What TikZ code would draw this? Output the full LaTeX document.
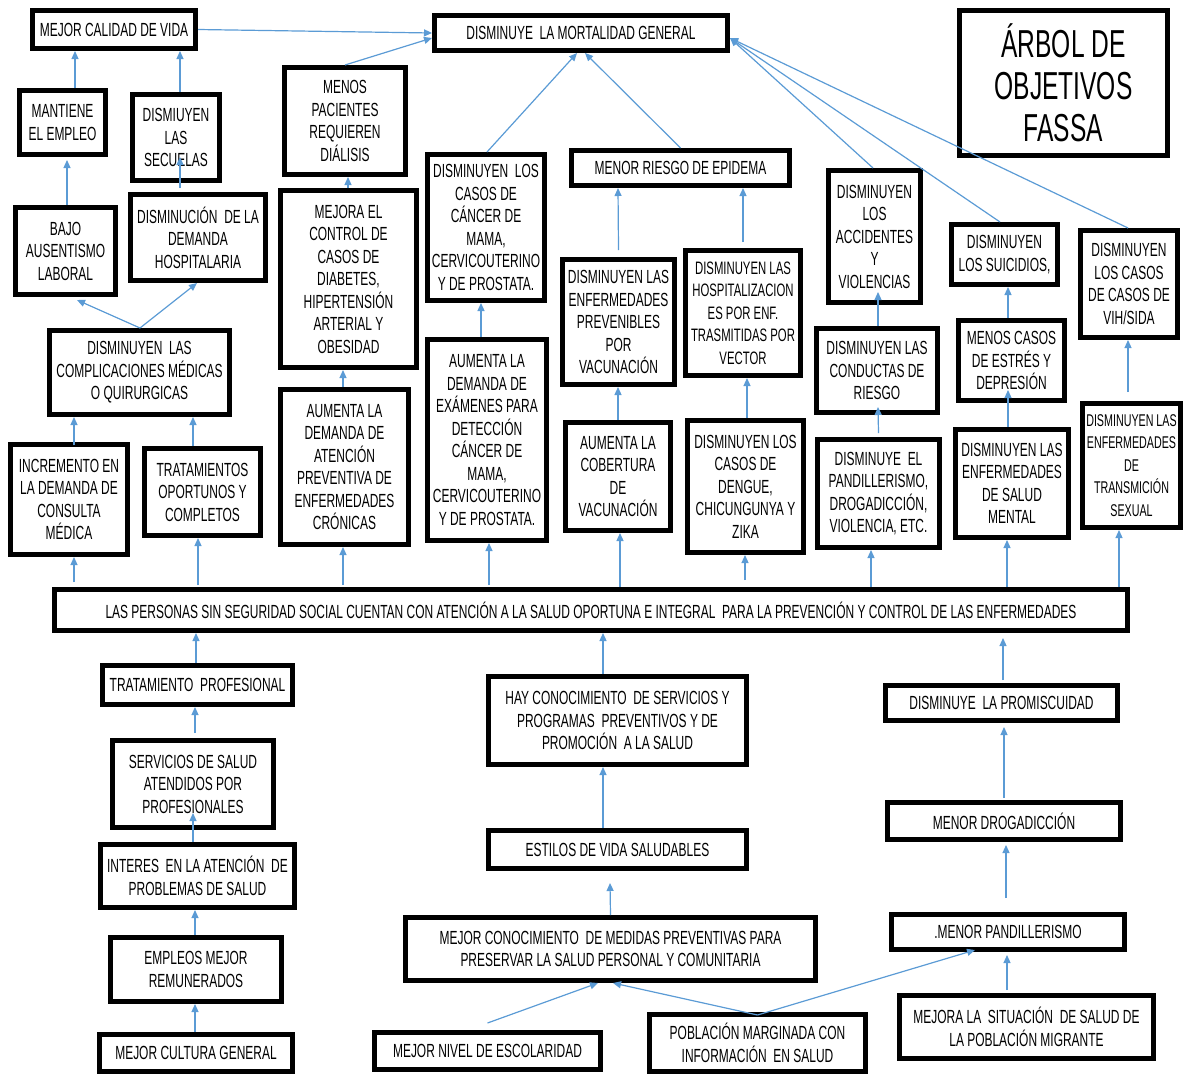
\documentclass[tikz,border=0pt]{standalone}
\usepackage{fontspec}
\setmainfont{Liberation Sans}[FakeStretch=0.63]
\usetikzlibrary{arrows.meta}
\definecolor{arrowblue}{RGB}{91,155,213}
\tikzset{
  box/.style={draw=black, line width=5pt, outer sep=2.5pt, inner sep=0pt, fill=white,
    align=center, font=\fontsize{19}{22.5}\selectfont},
  arr/.style={draw=arrowblue, line width=1.2pt, -{Triangle[length=8pt,width=7pt]}}
}
\newcommand\objbox[6]{\node[box, minimum width={#4-#2-5}, minimum height={#5-#3-5}] (#1) at ({(#2+#4)/2},{(#3+#5)/2}) {#6};}
\begin{document}
\begin{tikzpicture}[x=1pt,y=-1pt]
\useasboundingbox (0,0) rectangle (1185,1076);
% top
\objbox{cal}{30}{8}{198}{51}{MEJOR CALIDAD DE VIDA}
\objbox{mort}{432}{13}{730}{53}{DISMINUYE \ LA MORTALIDAD GENERAL}
\node[box, font=\fontsize{39}{42}\selectfont, minimum width=208, minimum height=145] (title) at (1063.5,83) {ÁRBOL DE\\OBJETIVOS\\FASSA};
\objbox{mant}{17}{88}{108}{157}{MANTIENE\\EL EMPLEO}
\objbox{secu}{130}{92}{222}{183}{DISMIUYEN\\LAS\\SECUELAS}
\objbox{dial}{282}{65}{408}{177}{MENOS\\PACIENTES\\REQUIEREN\\DIÁLISIS}
\objbox{bajo}{13}{205}{118}{297}{BAJO\\AUSENTISMO\\LABORAL}
\objbox{dhos}{128}{192}{268}{283}{DISMINUCIÓN \ DE LA\\DEMANDA\\HOSPITALARIA}
\objbox{ctrl}{278}{188}{419}{370}{MEJORA EL\\CONTROL DE\\CASOS DE\\DIABETES,\\HIPERTENSIÓN\\ARTERIAL Y\\OBESIDAD}
\objbox{comp}{47}{328}{232}{417}{DISMINUYEN \ LAS\\COMPLICACIONES MÉDICAS\\O QUIRURGICAS}
\objbox{inc}{8}{442}{130}{557}{INCREMENTO EN\\LA DEMANDA DE\\CONSULTA\\MÉDICA}
\objbox{trat}{142}{446}{263}{538}{TRATAMIENTOS\\OPORTUNOS Y\\COMPLETOS}
\objbox{cron}{278}{387}{411}{547}{AUMENTA LA\\DEMANDA DE\\ATENCIÓN\\PREVENTIVA DE\\ENFERMEDADES\\CRÓNICAS}
\objbox{pers}{52}{587}{1130}{633}{LAS PERSONAS SIN SEGURIDAD SOCIAL CUENTAN CON ATENCIÓN A LA SALUD OPORTUNA E INTEGRAL \ PARA LA PREVENCIÓN Y CONTROL DE LAS ENFERMEDADES}
\objbox{canc}{425}{152}{547}{303}{DISMINUYEN \ LOS\\CASOS DE\\CÁNCER DE\\MAMA,\\CERVICOUTERINO\\Y DE PROSTATA.}
\objbox{epid}{569}{148}{792}{188}{MENOR RIESGO DE EPIDEMA}
\objbox{prev}{560}{257}{677}{387}{DISMINUYEN LAS\\ENFERMEDADES\\PREVENIBLES\\POR\\VACUNACIÓN}
\node[box, font=\fontsize{18}{22.5}\selectfont, minimum width=115, minimum height=125] (hosp) at (743,313) {DISMINUYEN LAS\\HOSPITALIZACION\\ES POR ENF.\\TRASMITIDAS POR\\VECTOR};
\objbox{acc}{826}{168}{923}{305}{DISMINUYEN\\LOS\\ACCIDENTES\\Y\\VIOLENCIAS}
\objbox{suic}{949}{222}{1060}{287}{DISMINUYEN\\LOS SUICIDIOS,}
\objbox{vih}{1078}{228}{1180}{340}{DISMINUYEN\\LOS CASOS\\DE CASOS DE\\VIH/SIDA}
\objbox{exam}{425}{337}{549}{543}{AUMENTA LA\\DEMANDA DE\\EXÁMENES PARA\\DETECCIÓN\\CÁNCER DE\\MAMA,\\CERVICOUTERINO\\Y DE PROSTATA.}
\objbox{cob}{563}{420}{673}{533}{AUMENTA LA\\COBERTURA\\DE\\VACUNACIÓN}
\objbox{deng}{685}{418}{806}{555}{DISMINUYEN LOS\\CASOS DE\\DENGUE,\\CHICUNGUNYA Y\\ZIKA}
\objbox{cond}{814}{326}{940}{415}{DISMINUYEN LAS\\CONDUCTAS DE\\RIESGO}
\objbox{pand}{815}{437}{942}{550}{DISMINUYE \ EL\\PANDILLERISMO,\\DROGADICCIÓN,\\VIOLENCIA, ETC.}
\objbox{estr}{956}{318}{1067}{403}{MENOS CASOS\\DE ESTRÉS Y\\DEPRESIÓN}
\objbox{ment}{953}{427}{1071}{540}{DISMINUYEN LAS\\ENFERMEDADES\\DE SALUD\\MENTAL}
\node[box, font=\fontsize{17}{22.5}\selectfont, minimum width=98, minimum height=124] (sex) at (1131.5,465.5) {DISMINUYEN LAS\\ENFERMEDADES\\DE\\TRANSMICIÓN\\SEXUAL};
% bottom
\objbox{tprof}{100}{663}{295}{707}{TRATAMIENTO \ PROFESIONAL}
\objbox{serv}{110}{738}{276}{830}{SERVICIOS DE SALUD\\ATENDIDOS POR\\PROFESIONALES}
\objbox{inter}{98}{842}{297}{910}{INTERES \ EN LA ATENCIÓN \ DE\\PROBLEMAS DE SALUD}
\objbox{empl}{108}{935}{284}{1004}{EMPLEOS MEJOR\\REMUNERADOS}
\objbox{cult}{97}{1032}{295}{1074}{MEJOR CULTURA GENERAL}
\objbox{hay}{486}{674}{749}{767}{HAY CONOCIMIENTO \ DE SERVICIOS Y\\PROGRAMAS \ PREVENTIVOS Y DE\\PROMOCIÓN \ A LA SALUD}
\objbox{esti}{486}{828}{749}{871}{ESTILOS DE VIDA SALUDABLES}
\objbox{mcon}{403}{915}{818}{983}{MEJOR CONOCIMIENTO \ DE MEDIDAS PREVENTIVAS PARA\\PRESERVAR LA SALUD PERSONAL Y COMUNITARIA}
\objbox{niv}{372}{1030}{603}{1072}{MEJOR NIVEL DE ESCOLARIDAD}
\objbox{pobl}{647}{1012}{868}{1074}{POBLACIÓN MARGINADA CON\\INFORMACIÓN \ EN SALUD}
\objbox{prom}{883}{683}{1120}{723}{DISMINUYE \ LA PROMISCUIDAD}
\objbox{drog}{885}{800}{1123}{842}{MENOR DROGADICCIÓN}
\objbox{mpan}{889}{912}{1127}{952}{.MENOR PANDILLERISMO}
\objbox{migr}{897}{993}{1156}{1061}{MEJORA LA \ SITUACIÓN \ DE SALUD DE\\LA POBLACIÓN MIGRANTE}
% arrows
\draw[arr] (cal.east) -- (mort.west);
\draw[arr] (dial.north) -- ([yshift=-5pt]mort.west);
\draw[arr] ([xshift=12.5pt]mant.north) -- ([xshift=-39pt]cal.south);
\draw[arr] ([xshift=4pt]secu.north) -- ([xshift=66pt]cal.south);
\draw[arr] ([xshift=1.5pt]bajo.north) -- ([xshift=4.5pt,yshift=-3pt]mant.south);
\draw[arr] ([xshift=-18pt,yshift=4pt]dhos.north) -- ([xshift=4pt,yshift=26pt]secu.south);
\draw[arr] ([xshift=0.5pt]comp.north) -- ([xshift=11.5pt,yshift=-3pt]bajo.south);
\draw[arr] ([xshift=0.5pt]comp.north) -- ([xshift=-1pt]dhos.south);
\draw[arr] ([xshift=5pt,yshift=-3pt]inc.north) -- ([xshift=-65.5pt]comp.south);
\draw[arr] ([xshift=-9.5pt]trat.north) -- ([xshift=53.5pt]comp.south);
\draw[arr] ([xshift=-517pt,yshift=5pt]pers.north) -- ([xshift=5pt]inc.south);
\draw[arr] ([xshift=-393pt,yshift=2pt]pers.north) -- ([xshift=-4.5pt]trat.south);
\draw[arr] ([xshift=-248pt,yshift=2pt]pers.north) -- ([xshift=-1.5pt]cron.south);
\draw[arr] ([xshift=-1.5pt]cron.north) -- ([xshift=-5.5pt]ctrl.south);
\draw[arr] ([xshift=-0.5pt]ctrl.north) -- ([xshift=3pt]dial.south);
\draw[arr] ([xshift=1pt]canc.north) -- ([xshift=-4pt]mort.south);
\draw[arr] (epid.north) -- ([xshift=4pt]mort.south);
\draw[arr] ([yshift=7pt]prev.north) -- ([xshift=-62.5pt]epid.south);
\draw[arr] ([yshift=6pt]hosp.north) -- ([xshift=62.5pt]epid.south);
\draw[arr] ([xshift=-6pt]exam.north) -- ([xshift=-5pt]canc.south);
\draw[arr] (cob.north) -- ([xshift=-0.5pt]prev.south);
\draw[arr] ([xshift=1.5pt]deng.north) -- ([xshift=4pt]hosp.south);
\draw[arr] ([xshift=-102pt,yshift=2pt]pers.north) -- ([xshift=2pt]exam.south);
\draw[arr] ([xshift=29pt]pers.north) -- ([xshift=2pt]cob.south);
\draw[arr] ([xshift=154pt,yshift=7pt]pers.north) -- ([xshift=-0.5pt]deng.south);
\draw[arr] ([xshift=-1.5pt]acc.north) -- ([yshift=-5pt]mort.east);
\draw[arr] ([xshift=-4.5pt]suic.north) -- ([yshift=-5pt]mort.east);
\draw[arr] ([xshift=-1pt]vih.north) -- ([yshift=-5pt]mort.east);
\draw[arr] ([xshift=1pt]cond.north) -- ([xshift=3.5pt,yshift=13pt]acc.south);
\draw[arr] ([yshift=4pt]pand.north) -- ([xshift=1pt,yshift=8pt]cond.south);
\draw[arr] ([xshift=280pt]pers.north) -- ([xshift=-7.5pt]pand.south);
\draw[arr] ([xshift=-4pt]ment.north) -- ([xshift=-3.5pt,yshift=13pt]estr.south);
\draw[arr] ([xshift=-3.5pt]estr.north) -- ([xshift=3.5pt]suic.south);
\draw[arr] ([xshift=416pt]pers.north) -- ([xshift=-5pt]ment.south);
\draw[arr] ([xshift=-3.5pt,yshift=9pt]sex.north) -- ([xshift=-1pt]vih.south);
\draw[arr] ([xshift=528pt]pers.north) -- ([xshift=-12.5pt]sex.south);
\draw[arr] ([xshift=-1.5pt]tprof.north) -- ([xshift=-395pt]pers.south);
\draw[arr] ([xshift=2pt,yshift=5pt]serv.north) -- ([xshift=-2.5pt]tprof.south);
\draw[arr] ([xshift=-4.5pt]inter.north) -- ([yshift=17pt]serv.south);
\draw[arr] ([xshift=-1pt]empl.north) -- ([xshift=-2.5pt]inter.south);
\draw[arr] ([xshift=-1pt]cult.north) -- ([xshift=-1pt]empl.south);
\draw[arr] ([xshift=-14.5pt]hay.north) -- ([xshift=12pt]pers.south);
\draw[arr] ([xshift=-14.5pt]esti.north) -- ([xshift=-14.5pt]hay.south);
\draw[arr] (mcon.north) -- ([xshift=-7.5pt,yshift=-12pt]esti.south);
\draw[arr] ([yshift=7pt]niv.north) -- ([xshift=-12.5pt]mcon.south);
\draw[arr] ([yshift=-3pt]pobl.north) -- ([xshift=2.5pt]mcon.south);
\draw[arr] ([yshift=-3pt]pobl.north) -- ([xshift=-33pt,yshift=2pt]mpan.south);
\draw[arr] ([xshift=-19.5pt,yshift=3pt]migr.north) -- ([xshift=-1pt,yshift=-3pt]mpan.south);
\draw[arr] ([xshift=-2pt,yshift=14pt]mpan.north) -- ([xshift=2pt,yshift=-3pt]drog.south);
\draw[arr] ([yshift=2pt]drog.north) -- ([xshift=2.5pt,yshift=-4pt]prom.south);
\draw[arr] ([xshift=1.5pt,yshift=3pt]prom.north) -- ([xshift=412pt,yshift=-5pt]pers.south);
\end{tikzpicture}
\end{document}
